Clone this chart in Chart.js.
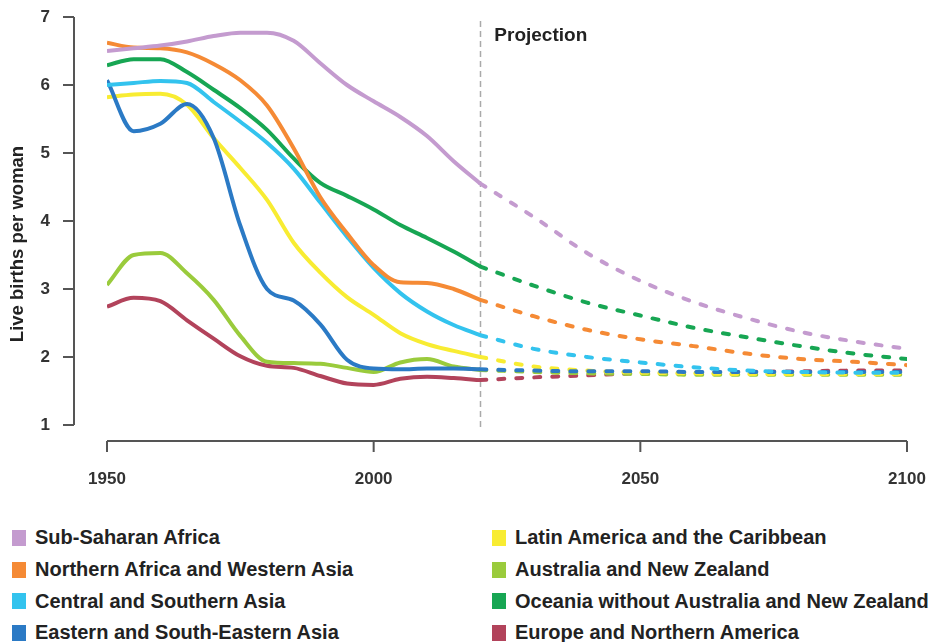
<!DOCTYPE html>
<html lang="en">
<head>
<meta charset="UTF-8">
<title>Live births per woman</title>
<script src="https://cdn.jsdelivr.net/npm/chart.js"></script>
<style>
    body {
        margin: 0;
        background: #fff;
        font-family: 'Liberation Sans', Arial, sans-serif;
    }
    #wrap {
        position: relative;
        width: 930px;
        height: 642px;
        overflow: hidden;
    }
    #fertility {
        position: absolute;
        left: 0;
        top: 0;
    }
    #legend {
        position: absolute;
        left: 12px;
        top: 522px;
        display: grid;
        grid-template-columns: 480px auto;
        grid-template-rows: repeat(4, 31.7px);
        grid-auto-flow: column;
    }
    .item {
        display: flex;
        align-items: center;
        font-weight: bold;
        font-size: 20px;
        color: #222;
        white-space: nowrap;
    }
    .swatch {
        width: 14px;
        height: 16px;
        margin-right: 9px;
    }
</style>
</head>
<body>
<div id="wrap">
    <canvas id="fertility" width="930" height="500"></canvas>
    <div id="legend"></div>
</div>

<script>
// years
var histYears = [1950, 1955, 1960, 1965, 1970, 1975, 1980, 1985, 1990, 1995, 2000, 2005, 2010, 2015, 2020];
var projYears = [2020, 2030, 2040, 2050, 2060, 2070, 2080, 2090, 2100];
var xTicks = [1950, 2000, 2050, 2100];
var yTicks = [1, 2, 3, 4, 5, 6, 7];

// live births per woman, estimates then projections
var ssaHist  = [6.50, 6.54, 6.58, 6.64, 6.72, 6.77, 6.77, 6.65, 6.32, 6.00, 5.76, 5.53, 5.25, 4.88, 4.55];
var ssaProj  = [4.55, 4.06, 3.53, 3.12, 2.81, 2.57, 2.37, 2.23, 2.12];
var nawaHist = [6.62, 6.55, 6.54, 6.48, 6.31, 6.07, 5.70, 5.07, 4.35, 3.82, 3.35, 3.10, 3.09, 3.00, 2.84];
var nawaProj = [2.84, 2.60, 2.40, 2.26, 2.16, 2.05, 1.97, 1.93, 1.88];
var csaHist  = [6.00, 6.03, 6.06, 6.03, 5.75, 5.46, 5.15, 4.77, 4.27, 3.77, 3.31, 2.94, 2.67, 2.47, 2.32];
var csaProj  = [2.32, 2.12, 2.00, 1.92, 1.85, 1.80, 1.78, 1.77, 1.77];
var eseaHist = [6.07, 5.32, 5.43, 5.72, 5.22, 3.93, 3.00, 2.83, 2.48, 1.96, 1.83, 1.82, 1.83, 1.83, 1.82];
var eseaProj = [1.82, 1.80, 1.79, 1.79, 1.78, 1.78, 1.78, 1.78, 1.78];
var lacHist  = [5.82, 5.86, 5.87, 5.71, 5.22, 4.78, 4.31, 3.68, 3.24, 2.88, 2.62, 2.35, 2.19, 2.09, 2.00];
var lacProj  = [2.00, 1.86, 1.80, 1.77, 1.76, 1.75, 1.75, 1.75, 1.75];
var anzHist  = [3.06, 3.50, 3.53, 3.23, 2.84, 2.31, 1.93, 1.91, 1.90, 1.84, 1.78, 1.92, 1.97, 1.86, 1.81];
var anzProj  = [1.81, 1.78, 1.76, 1.75, 1.74, 1.74, 1.74, 1.74, 1.74];
var oceHist  = [6.29, 6.38, 6.38, 6.19, 5.93, 5.66, 5.34, 4.92, 4.56, 4.37, 4.17, 3.94, 3.75, 3.55, 3.33];
var oceProj  = [3.33, 3.05, 2.80, 2.61, 2.43, 2.29, 2.16, 2.05, 1.97];
var enaHist  = [2.74, 2.87, 2.82, 2.54, 2.27, 2.01, 1.87, 1.84, 1.72, 1.61, 1.59, 1.68, 1.71, 1.69, 1.66];
var enaProj  = [1.66, 1.70, 1.73, 1.76, 1.77, 1.78, 1.79, 1.80, 1.80];

var regions = [
    'Sub-Saharan Africa',
    'Northern Africa and Western Asia',
    'Central and Southern Asia',
    'Eastern and South-Eastern Asia',
    'Latin America and the Caribbean',
    'Australia and New Zealand',
    'Oceania without Australia and New Zealand',
    'Europe and Northern America'
];
var colors = ['#c49bcf', '#f58a35', '#33c3ee', '#2b7ac5', '#f8ec32', '#9acb3c', '#17a653', '#b2435b'];
var histSeries = [ssaHist, nawaHist, csaHist, eseaHist, lacHist, anzHist, oceHist, enaHist];
var projSeries = [ssaProj, nawaProj, csaProj, eseaProj, lacProj, anzProj, oceProj, enaProj];

function toPoints(years, vals) {
    return years.map(function (yr, i) { return { x: yr, y: vals[i] }; });
}

var datasets = [];
regions.forEach(function (name, i) {
    datasets.push({
        label: name,
        data: toPoints(histYears, histSeries[i]),
        borderColor: colors[i],
        borderWidth: 4,
        pointRadius: 0,
        tension: 0.4,
        cubicInterpolationMode: 'monotone'
    });
    datasets.push({
        label: name + ' (projection)',
        data: toPoints(projYears, projSeries[i]),
        borderColor: colors[i],
        borderWidth: 4,
        borderDash: [6, 12],
        borderCapStyle: 'round',
        pointRadius: 0,
        tension: 0.4,
        cubicInterpolationMode: 'monotone'
    });
});

var tickFont = { family: '"Liberation Sans", Arial, sans-serif', size: 17, weight: 'bold' };

// R style axes, the projection divider and the extra labels
var extrasPlugin = {
    id: 'extras',
    beforeDatasetsDraw: function (chart) {
        var ctx = chart.ctx, area = chart.chartArea, x = chart.scales.x;
        var px = Math.round(x.getPixelForValue(2020)) + 0.5;
        ctx.save();
        ctx.strokeStyle = '#aaa';
        ctx.lineWidth = 1.5;
        ctx.setLineDash([6, 4]);
        ctx.beginPath();
        ctx.moveTo(px, area.top + 4);
        ctx.lineTo(px, area.bottom + 4);
        ctx.stroke();
        ctx.restore();
    },
    afterDraw: function (chart) {
        var ctx = chart.ctx, area = chart.chartArea;
        var x = chart.scales.x, y = chart.scales.y;
        ctx.save();
        ctx.strokeStyle = '#555';
        ctx.lineWidth = 2;
        ctx.beginPath();
        var ax = area.left - 33;
        ctx.moveTo(ax, y.getPixelForValue(1));
        ctx.lineTo(ax, y.getPixelForValue(7));
        yTicks.forEach(function (v) {
            var py = y.getPixelForValue(v);
            ctx.moveTo(ax - 11, py);
            ctx.lineTo(ax, py);
        });
        var ay = area.bottom + 16;
        ctx.moveTo(x.getPixelForValue(1950), ay);
        ctx.lineTo(x.getPixelForValue(2100), ay);
        xTicks.forEach(function (v) {
            var px = x.getPixelForValue(v);
            ctx.moveTo(px, ay);
            ctx.lineTo(px, ay + 11);
        });
        ctx.stroke();

        ctx.fillStyle = '#222';
        ctx.font = 'bold 19px "Liberation Sans", Arial, sans-serif';
        ctx.textBaseline = 'middle';
        ctx.textAlign = 'left';
        ctx.fillText('Projection', x.getPixelForValue(2020) + 14, 36);

        ctx.font = 'bold 18.5px "Liberation Sans", Arial, sans-serif';
        ctx.translate(18, 244);
        ctx.rotate(-Math.PI / 2);
        ctx.textAlign = 'center';
        ctx.fillText('Live births per woman', 0, 0);
        ctx.restore();
    }
};

var ctx = document.getElementById('fertility').getContext('2d');
var chart = new Chart(ctx, {
    type: 'line',
    data: { datasets: datasets },
    options: {
        responsive: false,
        animation: false,
        layout: { padding: { top: 17, right: 23, left: 0, bottom: 0 } },
        plugins: {
            legend: { display: false },
            tooltip: { enabled: false }
        },
        scales: {
            x: {
                type: 'linear',
                min: 1950,
                max: 2100,
                afterFit: function (s) {
                    s.height = 75;
                    s.paddingLeft = 0;
                    s.paddingRight = 0;
                },
                afterBuildTicks: function (s) { s.ticks = xTicks.map(function (v) { return { value: v }; }); },
                grid: { display: false, drawTicks: false },
                border: { display: false },
                ticks: {
                    padding: 44,
                    color: '#333',
                    font: tickFont,
                    callback: function (v) { return String(v); },
                    maxRotation: 0
                }
            },
            y: {
                min: 1,
                max: 7,
                afterFit: function (s) {
                    s.width = 107;
                    s.paddingTop = 0;
                    s.paddingBottom = 0;
                },
                afterBuildTicks: function (s) { s.ticks = yTicks.map(function (v) { return { value: v }; }); },
                grid: { display: false, drawTicks: false },
                border: { display: false },
                ticks: {
                    padding: 57,
                    color: '#333',
                    font: tickFont
                }
            }
        }
    },
    plugins: [extrasPlugin]
});

// legend in two columns
var legend = document.getElementById('legend');
regions.forEach(function (name, i) {
    var item = document.createElement('div');
    item.className = 'item';
    var sw = document.createElement('span');
    sw.className = 'swatch';
    sw.style.background = colors[i];
    item.appendChild(sw);
    item.appendChild(document.createTextNode(name));
    legend.appendChild(item);
});
</script>
</body>
</html>
